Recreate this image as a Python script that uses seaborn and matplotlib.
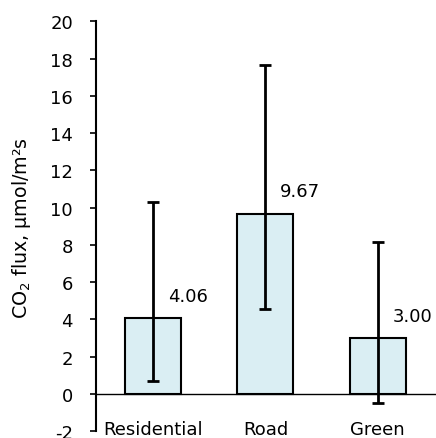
import matplotlib
matplotlib.use("Agg")
import matplotlib.pyplot as plt
import seaborn as sns
import numpy as np
import pandas as pd

categories = ["Residential", "Road", "Green"]
means = [4.06, 9.67, 3.00]
err_top = [10.3, 17.65, 8.15]
err_bottom = [0.71, 4.56, -0.47]
value_labels = ["4.06", "9.67", "3.00"]
yticks = list(range(-2, 21, 2))

sns.set_theme(style="white")
plt.rcParams['font.family'] = ['DejaVu Sans']
plt.rcParams['text.color'] = 'black'
plt.rcParams['axes.labelcolor'] = 'black'
plt.rcParams['xtick.color'] = 'black'
plt.rcParams['ytick.color'] = 'black'

fig = plt.figure(figsize=(4.36, 4.39), dpi=100)
ax = fig.add_axes([0.220, 0.01595, 0.78, 0.9328])

df = pd.DataFrame({"cat": categories, "val": means})
sns.barplot(data=df, x="cat", y="val", ax=ax, color="#DAEEF3", width=0.5,
            edgecolor="black", linewidth=1.5, saturation=1)

x = np.arange(len(categories))
m = np.array(means)
lo = m - np.array(err_bottom)
hi = np.array(err_top) - m
ax.errorbar(x, m, yerr=[lo, hi], fmt="none", ecolor="black", elinewidth=2,
            capsize=4.3, capthick=2, zorder=5)

for xi, v, lab in zip(x, means, value_labels):
    ax.text(xi + 0.31, v + 1.2, lab, ha="center", va="center", fontsize=13)

ax.axhline(0, color="black", lw=1, zorder=4)
ax.set_xlim(-0.51, 2.52)
ax.set_ylim(-2, 20)
ax.set_yticks(yticks)
ax.set_yticklabels([str(t) for t in yticks], fontsize=13)
ax.tick_params(axis="y", direction="out", length=4.5, width=1.2, color="black", left=True, pad=12)
ax.tick_params(axis="x", length=0, pad=-8, labelsize=13)
ax.set_xlabel("")
ax.set_ylabel(r"CO$_2$ flux, μmol/m²s", fontsize=13.7)
ax.yaxis.label.set_va("center")
ax.yaxis.set_label_coords(-0.218, 0.498)
for s in ["top", "right", "bottom"]:
    ax.spines[s].set_visible(False)
ax.spines["left"].set_color("black")
ax.spines["left"].set_linewidth(1.5)
ax.set_facecolor("white")
fig.patch.set_facecolor("white")

fig.savefig("out.png", dpi=100)
